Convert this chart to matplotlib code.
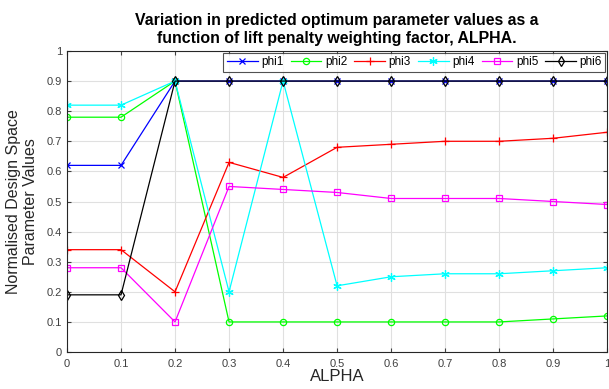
import numpy as np
import matplotlib.pyplot as plt

plt.rcParams["font.family"] = ["Liberation Sans", "DejaVu Sans"]

alpha = [0, 0.1, 0.2, 0.3, 0.4, 0.5, 0.6, 0.7, 0.8, 0.9, 1.0]
phi1 = [0.62, 0.62, 0.90, 0.90, 0.90, 0.90, 0.90, 0.90, 0.90, 0.90, 0.90]
phi2 = [0.78, 0.78, 0.90, 0.10, 0.10, 0.10, 0.10, 0.10, 0.10, 0.11, 0.12]
phi3 = [0.34, 0.34, 0.20, 0.63, 0.58, 0.68, 0.69, 0.70, 0.70, 0.71, 0.73]
phi4 = [0.82, 0.82, 0.90, 0.20, 0.90, 0.22, 0.25, 0.26, 0.26, 0.27, 0.28]
phi5 = [0.28, 0.28, 0.10, 0.55, 0.54, 0.53, 0.51, 0.51, 0.51, 0.50, 0.49]
phi6 = [0.19, 0.19, 0.90, 0.90, 0.90, 0.90, 0.90, 0.90, 0.90, 0.90, 0.90]

# (name, values, colour, marker, marker size)
series = [
    ("phi1", phi1, "#0000ff", "x", 4.5),
    ("phi2", phi2, "#00ff00", "o", 4.5),
    ("phi3", phi3, "#ff0000", "+", 6),
    ("phi4", phi4, "#00ffff", (6, 2, 0), 6),
    ("phi5", phi5, "#ff00ff", "s", 4),
    ("phi6", phi6, "#000000", "d", 5),
]

fig = plt.figure(figsize=(6.09, 3.89), dpi=100)
ax = fig.add_axes([0.110, 0.095, 0.887, 0.774])

for name, vals, col, mk, ms in series:
    ax.plot(alpha, vals, color=col, marker=mk, markersize=ms, linewidth=0.9,
            markerfacecolor="none", markeredgecolor=col, markeredgewidth=0.9,
            label=name)

ticklbl = ["0", "0.1", "0.2", "0.3", "0.4", "0.5", "0.6", "0.7", "0.8", "0.9", "1"]
ax.set_xlim(0, 1)
ax.set_ylim(0, 1)
ax.set_xticks(np.arange(0, 1.01, 0.1))
ax.set_yticks(np.arange(0, 1.01, 0.1))
ax.set_xticklabels(ticklbl)
ax.set_yticklabels(ticklbl)
ax.grid(True, color="#e0e0e0", linewidth=0.8)
ax.set_axisbelow(True)
ax.tick_params(axis="both", labelsize=8, colors="#404040", direction="in",
               length=3, top=True, right=True, labeltop=False, labelright=False)
ax.tick_params(axis="x", pad=5)
for sp in ax.spines.values():
    sp.set_color("#262626")
    sp.set_linewidth(0.8)

ax.set_xlabel("ALPHA", fontsize=12, color="#262626", labelpad=0)
ax.set_ylabel("Normalised Design Space\nParameter Values", fontsize=11.5,
              color="#262626", labelpad=6)
ax.set_title("Variation in predicted optimum parameter values as a\n"
             "function of lift penalty weighting factor, ALPHA.",
             fontsize=11.4, fontweight="bold", pad=6)

leg = ax.legend(loc="upper right", ncol=6, fontsize=8.5, frameon=True,
                fancybox=False, edgecolor="#262626", handlelength=2.6,
                handletextpad=0.3, columnspacing=0.6, borderpad=0.3,
                borderaxespad=0.15)
leg.get_frame().set_linewidth(0.8)

fig.savefig("out.png", dpi=100)
